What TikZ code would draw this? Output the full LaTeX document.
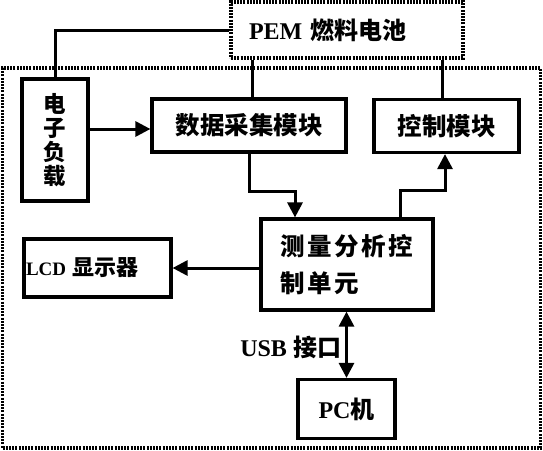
\documentclass[tikz,border=0pt]{standalone}
\usepackage{fontspec}
\setmainfont{Liberation Serif}
\newfontfamily\cjk{Noto Sans CJK SC}
\usetikzlibrary{arrows.meta}
\newcommand{\cs}{\hspace{2.5pt}}
\begin{document}
\begin{tikzpicture}[x=1pt,y=-1pt,
  fs/.style={font=\bfseries\fontsize{24}{28}\selectfont},
  cf/.style={font=\cjk\bfseries\fontsize{24.5}{28}\selectfont},
  box/.style={draw, line width=3.2pt, inner sep=0pt, fs},
  dbox/.style={draw, line width=3.4pt, dash pattern=on 2pt off 1.2pt, inner sep=0pt},
  conn/.style={line width=3pt},
  tip/.tip={Triangle[length=15pt,width=15pt]},
  arr/.style={conn, -tip},
  darr/.style={conn, tip-tip},
]
\useasboundingbox (0,0) rectangle (543,450);
\node[dbox, minimum width=538pt, minimum height=380pt] (outer) at (271.5,258) {};
\node[dbox, fs, text width=196pt, inner xsep=18pt, align=left, minimum height=56pt] (pem) at (347,30) {PEM {\cjk 燃料电池}};
\node[box, minimum width=66pt, minimum height=122pt, align=center, font=\cjk\bfseries\fontsize{22.5}{24}\selectfont] (load) at (55,140) {电\\子\\负\\载};
\node[box, minimum width=194pt, minimum height=53pt, cf] (data) at (249,125.5) {数据采集模块};
\node[box, minimum width=145pt, minimum height=53pt, cf] (ctrl) at (446.5,126) {控制模块};
\node[box, text width=138pt, inner xsep=17pt, minimum height=91pt, align=left, font=\cjk\bfseries\fontsize{24.5}{37}\selectfont] (meas) at (347,264.5) {\hspace{2pt}测\cs 量\cs 分\cs 析\cs 控\\\hspace{2pt}制\cs 单\cs 元};
\node[box, text width=143pt, inner xsep=2pt, minimum height=58pt, align=left, font=\bfseries\fontsize{19}{24}\selectfont] (lcd) at (97.5,268) {LCD {\cjk\fontsize{22}{24}\selectfont 显示器}};
\node[box, minimum width=97pt, minimum height=59pt] (pc) at (346.5,409) {PC{\cjk 机}};
% connectors
\draw[conn] (pem.west) -| (load.north);
\coordinate (dn) at ([xshift=3pt]data.north);
\draw[conn] (dn |- pem.south) -- (dn);
\coordinate (cn) at ([xshift=-4pt]ctrl.north);
\draw[conn] (cn |- pem.south) -- (cn);
\coordinate (ld) at ([yshift=-3.5pt]data.west);
\draw[arr] (load.east |- ld) -- (ld);
\draw[arr] (data.south) -- ++(0,38) -| ([xshift=-52pt]meas.north);
\draw[arr] ([xshift=53pt]meas.north) -- ++(0,-27) -| ([xshift=-1.5pt]ctrl.south);
\draw[arr] (meas.west |- lcd.east) -- (lcd.east);
\draw[darr] (meas.south -| pc.north) -- node[left, fs, inner sep=4pt, yshift=-3pt] {USB {\cjk 接口}} (pc.north);
\end{tikzpicture}
\end{document}
